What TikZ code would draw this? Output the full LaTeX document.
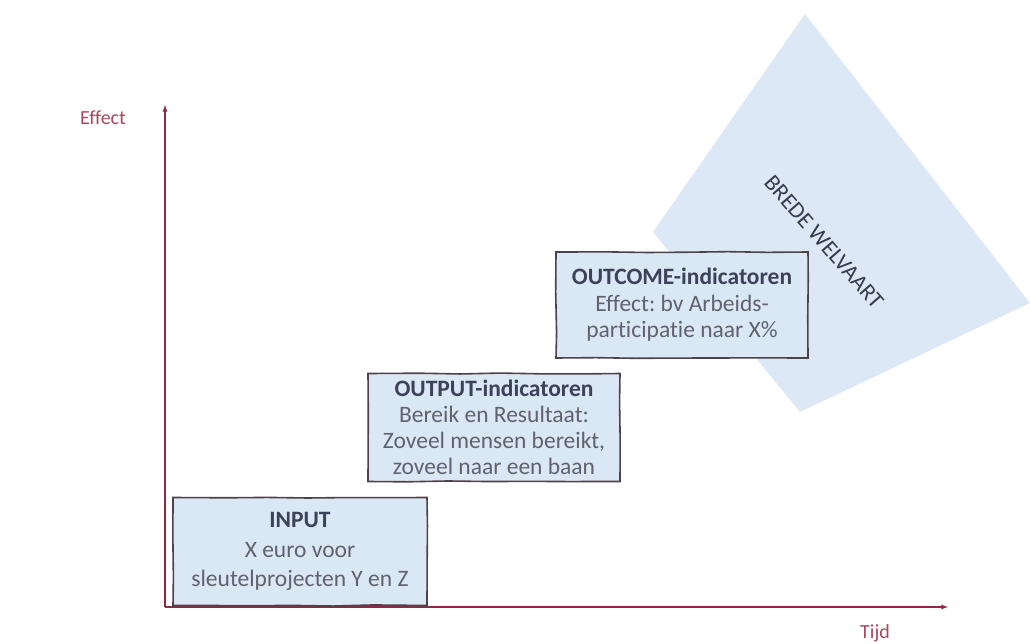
\documentclass[tikz,border=0pt]{standalone}
\usepackage{fontspec}
\setmainfont{Carlito}[RawFeature={-liga;-clig;-dlig}]
\usetikzlibrary{positioning}
\usetikzlibrary{decorations.pathmorphing}
\definecolor{axisred}{HTML}{8E2A45}
\definecolor{labelred}{HTML}{A8485A}
\definecolor{boxblue}{HTML}{DAE7F5}
\definecolor{planeblue}{HTML}{DCE8F6}
\definecolor{boxline}{HTML}{4E4248}
\definecolor{headtext}{HTML}{3C4257}
\definecolor{bodytext}{HTML}{60626C}
\frenchspacing
\tikzset{every picture/.style={line width=1pt},axis/.style={axisred,line width=1.3pt,-latex},axislabel/.style={text=labelred,font=\fontsize{20}{24}\selectfont}}

\begin{document}
\begin{tikzpicture}[x=1pt,y=-1pt,stage/.style={draw=boxline,line width=1.6pt,fill=boxblue,text=bodytext,align=center,inner sep=0pt,minimum width=252pt,minimum height=108pt,decorate,decoration={random steps,segment length=40pt,amplitude=0.6pt}}]
\useasboundingbox (0,0) rectangle (1030,644);
% brede welvaart vlak
\fill[planeblue] (805,14) -- (1030,303) -- (800,412) -- (653,232) -- cycle;
\node (welvaart) at (824,242) [rotate=-49,text=headtext!90!black,font=\fontsize{23}{26}\selectfont] {BREDE WELVAART};
% assen
\coordinate (o) at (165,607);
\coordinate (ytop) at (165,105);
\coordinate (xend) at (948,607);
\draw[axis] (o) -- (ytop);
\draw[axis] (o) -- (xend);
\node (effect) at (103,118) [axislabel] {Effect};
\node (tijd) at (875,633) [axislabel] {Tijd};
% trappen
\node (input) at (300,551.5) [stage,minimum width=254pt,font=\fontsize{23.5}{29.5}\selectfont] {{\bfseries\color{headtext}INPUT}\\X euro voor\\sleutelprojecten Y en Z};
\node (output) at (494,427.5) [stage,font=\fontsize{23.5}{26}\selectfont] {{\bfseries\color{headtext}OUTPUT-indicatoren}\\Bereik en Resultaat:\\Zoveel mensen bereikt,\\zoveel naar een baan};
\node (outcome) at (682,305) [stage,minimum height=106pt,font=\fontsize{23.5}{26.5}\selectfont] {{\bfseries\color{headtext}OUTCOME-indicatoren}\\Effect: bv Arbeids-\\participatie naar X\%};
\end{tikzpicture}
\end{document}
